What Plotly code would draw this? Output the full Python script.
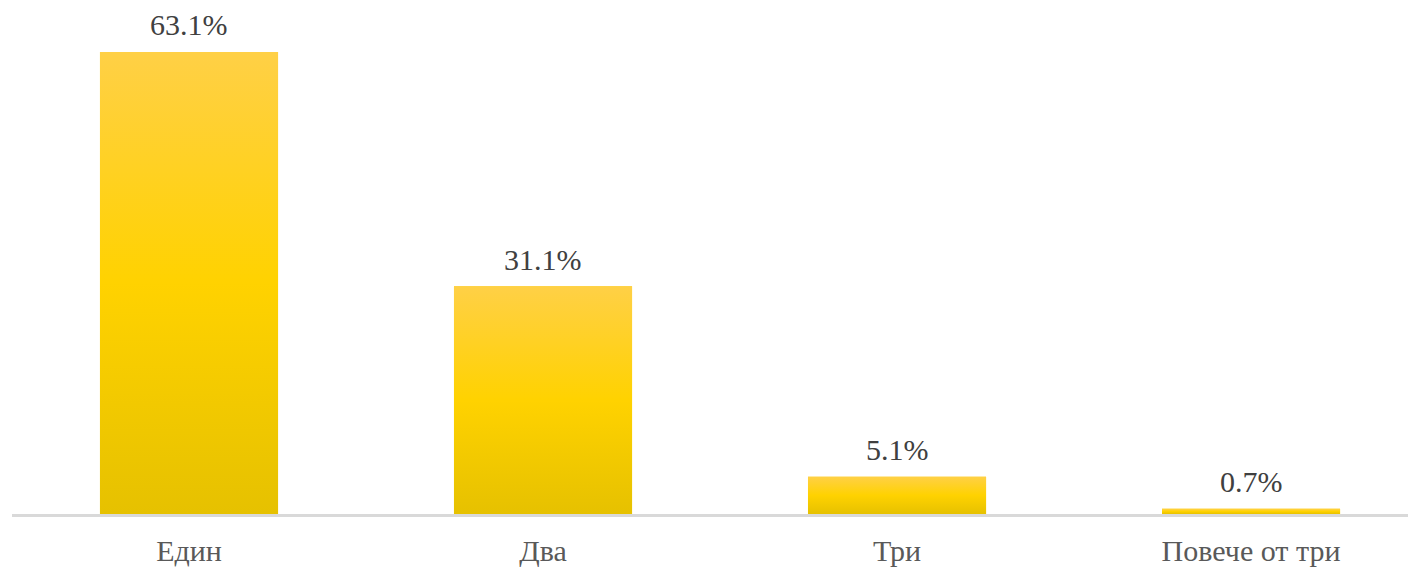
import plotly.graph_objects as go

categories = ["Един", "Два", "Три", "Повече от три"]
values = [63.1, 31.1, 5.1, 0.7]
labels = ["63.1%", "31.1%", "5.1%", "0.7%"]

SERIF = "Liberation Serif"
BAR_W = 0.503
GRAD = [[0.0, "#E6C100"], [0.5, "#FFD200"], [1.0, "#FFD046"]]

fig = go.Figure()
fig.add_trace(go.Bar(
    x=list(range(len(categories))),
    y=values,
    marker=dict(color="#FBCF10", line=dict(width=0)),
    width=BAR_W,
    cliponaxis=False,
    hoverinfo="skip",
))

# vertical gradient overlay on each bar, built from the same values
for i, v in enumerate(values):
    x0, x1 = i - BAR_W / 2, i + BAR_W / 2
    fig.add_trace(go.Scatter(
        x=[x0, x1, x1, x0, x0], y=[0, 0, v, v, 0],
        mode="lines", line=dict(width=0, color="rgba(0,0,0,0)"),
        fill="toself",
        fillgradient=dict(type="vertical", colorscale=GRAD),
        hoverinfo="skip", showlegend=False,
    ))

for i, (v, t) in enumerate(zip(values, labels)):
    fig.add_annotation(
        x=i, y=v, text=t, showarrow=False,
        xanchor="center", yanchor="middle", yshift=27,
        font=dict(family=SERIF, size=30, color="#404040"),
    )

fig.update_layout(
    width=1408, height=563,
    margin=dict(l=4, r=0, t=0, b=57),
    plot_bgcolor="white", paper_bgcolor="white",
    showlegend=False,
    font=dict(family=SERIF),
)
fig.update_xaxes(
    range=[-0.5, 3.466],
    tickmode="array",
    tickvals=list(range(len(categories))),
    ticktext=categories,
    tickfont=dict(family=SERIF, size=30, color="#595959"),
    showline=True, linecolor="#D9D9D9", linewidth=3,
    showgrid=False, zeroline=False, ticks="",
    ticklabelstandoff=8,
)
fig.update_yaxes(
    range=[0, 69.1],
    visible=False, showgrid=False, zeroline=False,
)

fig.write_html("out.html")
